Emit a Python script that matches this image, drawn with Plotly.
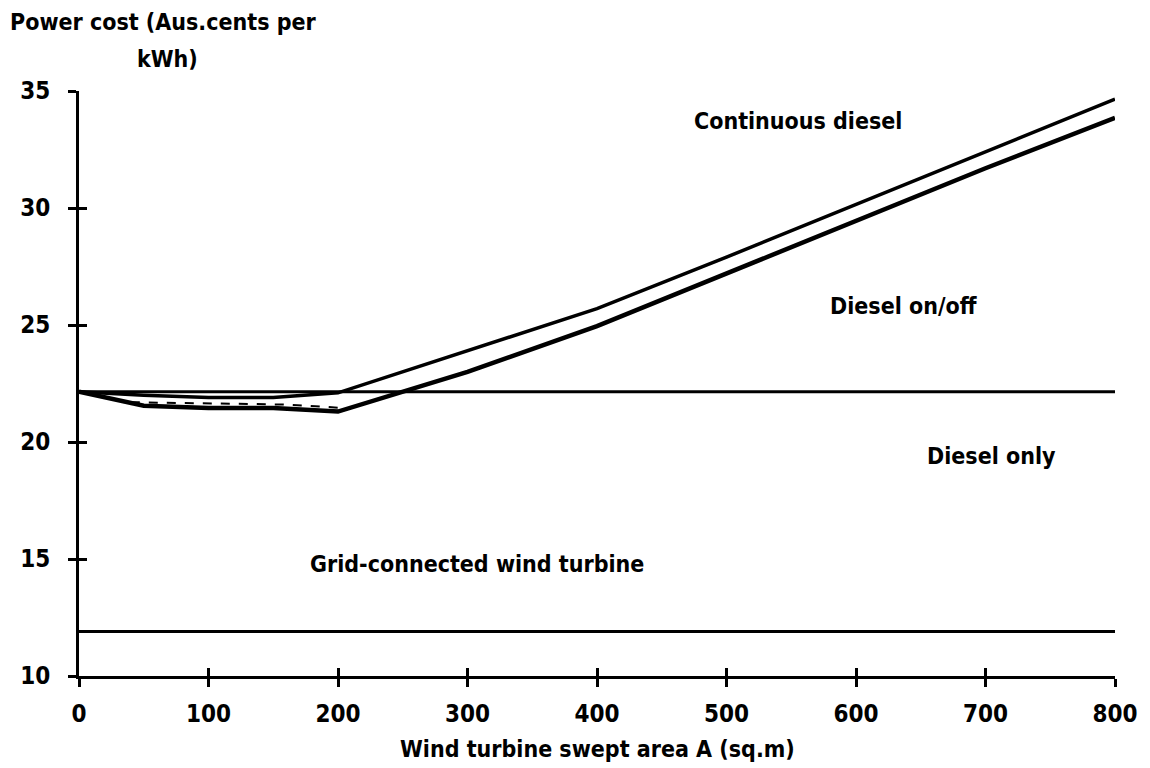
import plotly.graph_objects as go

# ---- data ----
x_ticks = [0, 100, 200, 300, 400, 500, 600, 700, 800]
y_ticks = [10, 15, 20, 25, 30, 35]

x_flat = [0, 800]
y_diesel_only = [22.15, 22.15]
y_grid = [11.9, 11.9]

x_cont = [0, 50, 100, 150, 200, 300, 400, 500, 600, 700, 800]
y_cont = [22.15, 22.0, 21.9, 21.9, 22.1, 23.9, 25.7, 27.9, 30.15, 32.4, 34.65]

x_onoff = [0, 50, 100, 150, 200, 250, 300, 400, 500, 600, 700, 800]
y_onoff = [22.15, 21.55, 21.45, 21.45, 21.3, 22.15, 23.0, 24.95, 27.2, 29.45, 31.7, 33.85]

x_dash = [40, 100, 160, 205]
y_dash = [21.7, 21.65, 21.6, 21.45]

labels = ["Continuous diesel", "Diesel on/off", "Diesel only", "Grid-connected wind turbine"]
label_x = [555, 637, 705, 307]
label_y = [33.7, 25.8, 19.4, 14.8]

FONT = "DejaVu Sans Condensed, DejaVu Sans, sans-serif"

fig = go.Figure()
fig.add_trace(go.Scatter(x=x_flat, y=y_grid, mode="lines",
                         line=dict(color="black", width=3), showlegend=False))
fig.add_trace(go.Scatter(x=x_flat, y=y_diesel_only, mode="lines",
                         line=dict(color="black", width=3), showlegend=False))
fig.add_trace(go.Scatter(x=x_dash, y=y_dash, mode="lines",
                         line=dict(color="black", width=2, dash="dash"), showlegend=False))
fig.add_trace(go.Scatter(x=x_cont, y=y_cont, mode="lines",
                         line=dict(color="black", width=3.5), showlegend=False))
fig.add_trace(go.Scatter(x=x_onoff, y=y_onoff, mode="lines",
                         line=dict(color="black", width=4.5), showlegend=False))
# invisible trace to activate the overlay axes (inside half of the crossing ticks)
fig.add_trace(go.Scatter(x=[x_ticks[0]], y=[y_ticks[0]], xaxis="x2", yaxis="y2",
                         mode="markers", marker=dict(opacity=0), showlegend=False,
                         hoverinfo="skip"))

TXT = dict(family=FONT, size=23, color="black", weight="bold")
for t, xx, yy in zip(labels, label_x, label_y):
    fig.add_annotation(x=xx, y=yy, text=t, showarrow=False, font=TXT)

fig.add_annotation(xref="paper", yref="paper", x=0.5, y=-0.125,
                   text="Wind turbine swept area A (sq.m)", showarrow=False,
                   xanchor="center", yanchor="middle", font=TXT)
fig.add_annotation(xref="paper", yref="paper", x=0.082, y=1.118,
                   text="Power cost (Aus.cents per", showarrow=False,
                   xanchor="center", yanchor="middle", font=TXT)
fig.add_annotation(xref="paper", yref="paper", x=0.085, y=1.055,
                   text="kWh)", showarrow=False,
                   xanchor="center", yanchor="middle", font=TXT)

tickfont = dict(family=FONT, size=24, color="black", weight="bold")
common = dict(showgrid=False, zeroline=False, tickcolor="black", tickwidth=2.5, ticklen=8)

# page body has an 8px margin, so the figure is offset by (8, 8)
fig.update_layout(
    width=1142, height=760,
    margin=dict(l=59, r=31, t=83, b=92),
    paper_bgcolor="white", plot_bgcolor="white",
    xaxis=dict(range=[0, 800], tickvals=x_ticks, ticks="outside",
               showline=True, linecolor="black", linewidth=3,
               tickfont=tickfont, ticklabelstandoff=6, **common),
    yaxis=dict(range=[10, 35], tickvals=y_ticks, ticks="outside",
               showline=True, linecolor="black", linewidth=3,
               tickfont=tickfont, ticklabelstandoff=13, **common),
    xaxis2=dict(range=[0, 800], tickvals=x_ticks, ticks="inside", overlaying="x",
                anchor="y2", side="bottom", showticklabels=False, showline=False, **common),
    yaxis2=dict(range=[10, 35], tickvals=y_ticks, ticks="inside", overlaying="y",
                anchor="x2", side="left", showticklabels=False, showline=False, **common),
)

fig.write_html("out.html")
